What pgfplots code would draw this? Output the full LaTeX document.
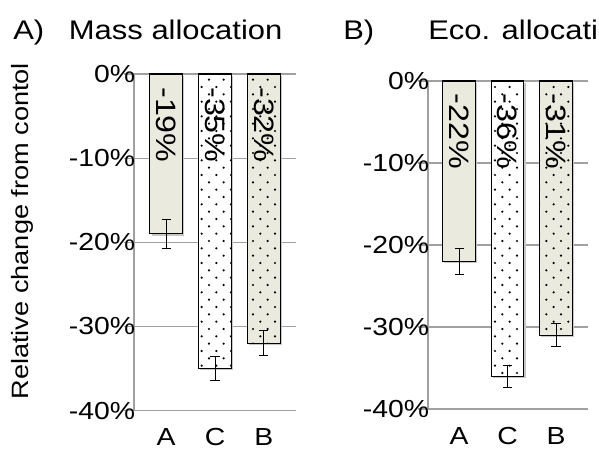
\documentclass[border=0pt]{standalone}
\usepackage{pgfplots}
\pgfplotsset{compat=1.18}
\usepackage{fontspec}
\setmainfont{Liberation Sans}[FakeStretch=1.15]
\usetikzlibrary{patterns}

\definecolor{beige}{HTML}{EBEADF}
\definecolor{gridgray}{HTML}{A0A0A0}

% sparse staggered dots used for the C and B bars
\pgfdeclarepatternformonly{sparsedots}{\pgfqpoint{-1pt}{-1pt}}{\pgfqpoint{12pt}{12pt}}{\pgfqpoint{11pt}{11pt}}{%
  \pgfpathcircle{\pgfqpoint{2.75pt}{2.75pt}}{0.9pt}%
  \pgfpathcircle{\pgfqpoint{8.25pt}{8.25pt}}{0.9pt}%
  \pgfusepath{fill}%
}

\newcommand\titlefont{\fontsize{20.2}{23}\selectfont}
\newcommand\tickfont{\fontsize{18.5}{21}\selectfont}
\newcommand\barfont{\fontsize{21}{24}\selectfont}

\tikzset{vlabel/.style={anchor=west, rotate=-90, inner sep=0pt, font=\barfont}}

\pgfplotsset{
  panel/.style={
    scale only axis,
    ymin=-40, ymax=0,
    ytick={-40,-30,-20,-10,0},
    yticklabels={-40\%,-30\%,-20\%,-10\%,0\%},
    xtick={0,1,2}, xticklabels={A,C,B},
    xmin=-0.66, xmax=2.66,
    axis lines*=left,
    axis line style={draw=gridgray, line width=0.8pt},
    ymajorgrids,
    grid style={draw=gridgray, line width=0.8pt},
    tick align=outside,
    major tick length=7.5pt,
    ytick style={draw=gridgray, line width=0.8pt},
    xtick style={draw=none, /pgfplots/major tick length=0pt},
    yticklabel style={font=\tickfont, inner xsep=0pt, xshift=8.5pt},
    xticklabel style={font=\tickfont, anchor=base, inner sep=0pt, yshift=-19pt},
    ybar, bar width=24.5pt, bar shift=0pt,
    clip=false,
    error bars/y dir=both,
    error bars/y explicit,
    error bars/error bar style={black, line width=0.7pt},
    error bars/error mark options={rotate=90, mark size=3.4pt, line width=0.7pt, black},
  },
  shadowed/.style={preaction={fill=black!22, draw=none, transform canvas={xshift=1.3pt, yshift=-1.3pt}}},
  barA/.style={shadowed, draw=black, line width=0.9pt, fill=beige},
  barC/.style={shadowed, draw=black, line width=0.9pt, fill=white, postaction={pattern=sparsedots}},
  barB/.style={shadowed, draw=black, line width=0.9pt, fill=beige, postaction={pattern=sparsedots}},
}

\begin{document}
\begin{tikzpicture}
\useasboundingbox (0pt,0pt) rectangle (449.25pt,-337.5pt);

\node[anchor=base west, inner sep=0pt, font=\titlefont] at (9.75pt,-29.25pt) {A)};
\node[anchor=base west, inner sep=0pt, font=\titlefont] at (51.5pt,-29.25pt) {Mass allocation};
\node[anchor=base west, inner sep=0pt, font=\titlefont] at (257.25pt,-29.25pt) {B)};
\node[anchor=base west, inner sep=0pt, font=\titlefont] at (321pt,-29.25pt) {Eco. allocati};

% Mass allocation
\begin{axis}[panel,
  at={(100.5pt,-307.9pt)}, anchor=south west,
  width=121.5pt, height=252.4pt,
  ylabel={Relative change from contol},
  ylabel style={font=\fontsize{17.7}{20}\selectfont, at={(axis description cs:-0.69,0.533)}, anchor=center, rotate=0},
]
\addplot+[barA] coordinates {(0,-19) +- (0,1.7)};
\addplot+[barC] coordinates {(1,-35) +- (0,1.4)};
\addplot+[barB] coordinates {(2,-32) +- (0,1.5)};
\node[vlabel] at (axis cs:0,-1.55) {-19\%};
\node[vlabel] at (axis cs:1,-1.55) {-35\%};
\node[vlabel] at (axis cs:2,-1.55) {-32\%};
\end{axis}

% Eco. allocation
\begin{axis}[panel,
  at={(321pt,-306.75pt)}, anchor=south west,
  width=120pt, height=246pt,
  xmin=-0.64, xmax=2.66,
]
\addplot+[barA] coordinates {(0,-22) +- (0,1.6)};
\addplot+[barC] coordinates {(1,-36) +- (0,1.35)};
\addplot+[barB] coordinates {(2,-31) +- (0,1.4)};
\node[vlabel] at (axis cs:0,-1.55) {-22\%};
\node[vlabel] at (axis cs:1,-1.55) {-36\%};
\node[vlabel] at (axis cs:2,-1.55) {-31\%};
\end{axis}
\end{tikzpicture}
\end{document}
